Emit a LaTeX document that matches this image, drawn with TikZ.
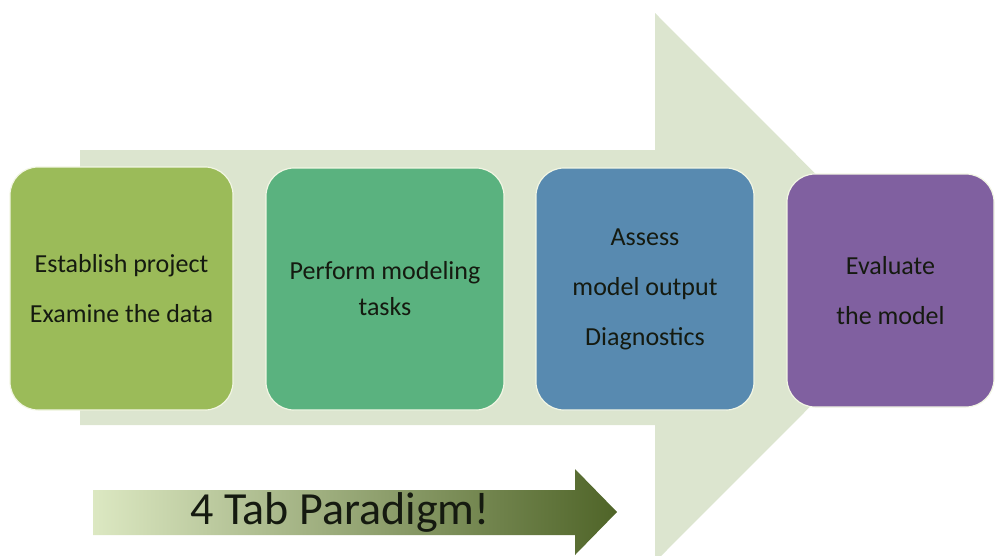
\documentclass[tikz,border=0pt]{standalone}
\usepackage{fontspec}
\setmainfont{Carlito}
\definecolor{bigarrow}{HTML}{DCE5CF}
\definecolor{boxA}{HTML}{9BBB59}
\definecolor{boxB}{HTML}{5AB27F}
\definecolor{boxC}{HTML}{588AB0}
\definecolor{boxD}{HTML}{8060A0}
\definecolor{boxedge}{HTML}{F2F6E4}
\definecolor{txt}{HTML}{151A10}
\definecolor{arrL}{HTML}{DCE8C2}
\definecolor{arrM}{HTML}{9AB06A}
\definecolor{arrR}{HTML}{4F6428}
\begin{document}
\begin{tikzpicture}[x=1pt,y=-1pt,
  stage/.style={draw=boxedge, line width=1.2pt, rounded corners=28pt,
    text=txt, align=center, inner sep=0pt,
    font=\fontsize{26}{50}\selectfont},
  banner/.style={text=txt, font=\fontsize{46}{50}\selectfont, inner sep=0pt}]
\useasboundingbox (0,0) rectangle (995,555);
\clip (0,0) rectangle (995,555);
% big background arrow
\fill[bigarrow] (80,150) -- (655,150) -- (655,13) -- (929,287.5) -- (655,562)
  -- (655,425) -- (80,425) -- cycle;
% stages
\node[stage, fill=boxA, minimum width=223pt, minimum height=243pt] (s1) at (121.5,288.5)
  {Establish project\\Examine the data};
\node[stage, fill=boxB, minimum width=238pt, minimum height=242pt] (s2) at (385,289)
  {Perform modeling\\[-14pt]tasks};
\node[stage, fill=boxC, minimum width=218pt, minimum height=242pt] (s3) at (645,289)
  {Assess\\model output\\Diagnostics};
\node[stage, fill=boxD, minimum width=207pt, minimum height=233pt] (s4) at (890.5,290.5)
  {Evaluate\\the model};
% small arrow
\path[left color=arrL, middle color=arrM, right color=arrR]
  (93,490) -- (575,490) -- (575,469) -- (617,512) -- (575,555) -- (575,535)
  -- (93,535) -- cycle;
\node[banner] (tab) at (340,512) {4 Tab Paradigm!};
\end{tikzpicture}
\end{document}
